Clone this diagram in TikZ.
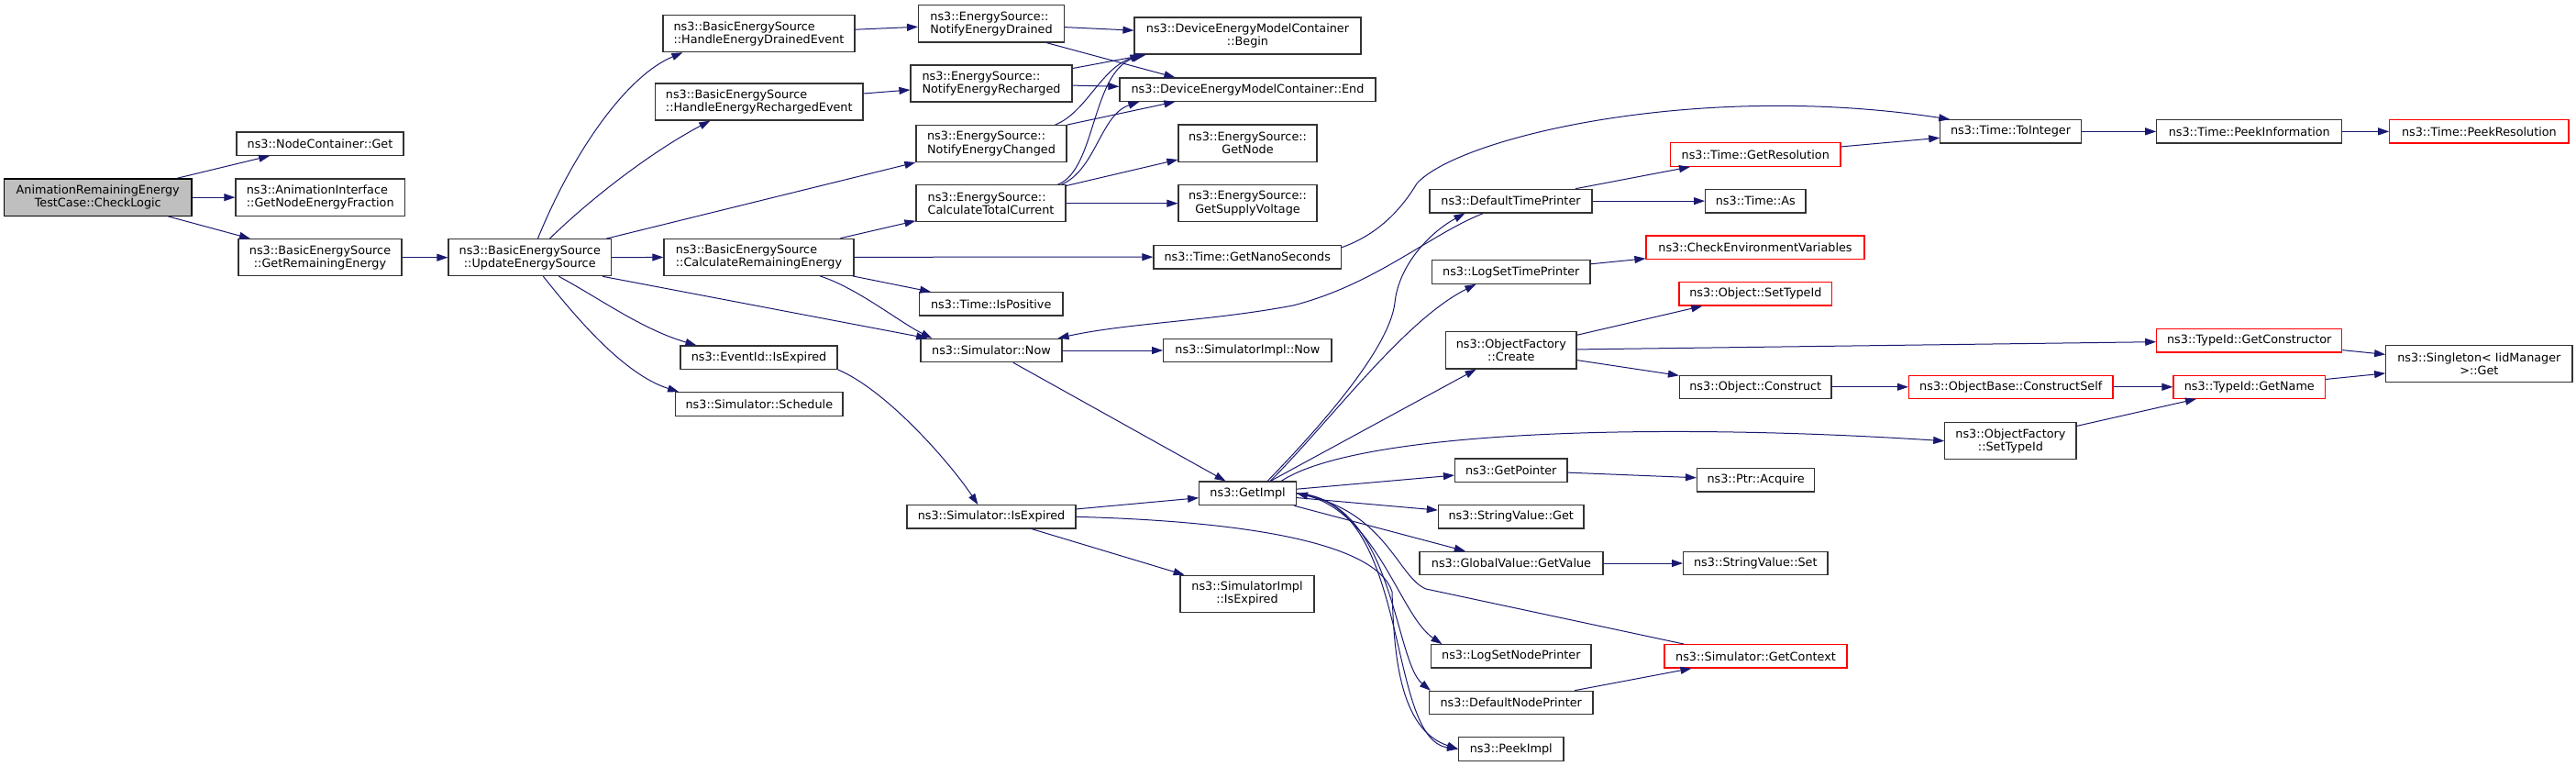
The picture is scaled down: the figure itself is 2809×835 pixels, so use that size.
\documentclass[tikz,border=0pt]{standalone}
\usepackage{fontspec}
\setmainfont{DejaVu Sans}
\usetikzlibrary{arrows.meta,calc}
\definecolor{edgec}{HTML}{191970}
\definecolor{boxc}{HTML}{333333}
\definecolor{rootc}{HTML}{BFBFBF}
\definecolor{redc}{HTML}{FF0000}
\tikzset{
 box/.style={draw=boxc, line width=1.2pt, fill=white, inner sep=0pt, align=center, font=\fontsize{12.8}{14.3}\selectfont},
 lbox/.style={box, align=left},
 redbox/.style={box, draw=redc},
 rootbox/.style={box, fill=rootc, draw=black},
 e/.style={draw=edgec, line width=1pt, -{Triangle[length=12pt,width=8pt]}},
}
\newcommand{\bx}[7][box]{\node[#1, minimum width={(#5)-(#3)}, minimum height={(#6)-(#4)}] (#2) at ({((#3)+(#5))/2},{((#4)+(#6))/2}) {#7};}
\begin{document}
\begin{tikzpicture}[x=1pt,y=-1pt]
\path[use as bounding box, fill=white] (0,0) rectangle (2809,835);
% nodes
\bx[rootbox]{cl}{4.5}{195}{209}{235.3}{AnimationRemainingEnergy\\TestCase::CheckLogic}
\bx{ncg}{258}{144}{440}{169.3}{ns3::NodeContainer::Get}
\bx[lbox]{gnef}{257}{195}{441.5}{235.3}{ns3::AnimationInterface\\::GetNodeEnergyFraction}
\bx{gre}{260}{260.7}{438}{300.7}{ns3::BasicEnergySource\\::GetRemainingEnergy}
\bx{ues}{489}{260.7}{666.5}{300.7}{ns3::BasicEnergySource\\::UpdateEnergySource}
\bx[lbox]{hed}{723}{16.7}{932}{56.7}{ns3::BasicEnergySource\\::HandleEnergyDrainedEvent}
\bx[lbox]{her}{714.5}{91}{941}{131}{ns3::BasicEnergySource\\::HandleEnergyRechargedEvent}
\bx[lbox]{cre}{724}{260.3}{931}{300.3}{ns3::BasicEnergySource\\::CalculateRemainingEnergy}
\bx{eie}{742}{377}{913}{402.3}{ns3::EventId::IsExpired}
\bx{sch}{736.7}{427.7}{919}{453.3}{ns3::Simulator::Schedule}
\bx[lbox]{ned}{1001.6}{5.7}{1160.5}{46}{ns3::EnergySource::\\NotifyEnergyDrained}
\bx[lbox]{ner}{993}{71}{1169}{111}{ns3::EnergySource::\\NotifyEnergyRecharged}
\bx[lbox]{nec}{999}{136.7}{1163}{176.7}{ns3::EnergySource::\\NotifyEnergyChanged}
\bx[lbox]{ctc}{999}{201.7}{1162}{241.7}{ns3::EnergySource::\\CalculateTotalCurrent}
\bx{tip}{1002.5}{318.7}{1159}{344}{ns3::Time::IsPositive}
\bx{snow}{1004}{369.3}{1158}{394.7}{ns3::Simulator::Now}
\bx{sie}{989}{550.7}{1173}{576}{ns3::Simulator::IsExpired}
\bx{dbeg}{1237}{19}{1484}{59}{ns3::DeviceEnergyModelContainer\\::Begin}
\bx{dend}{1221}{85}{1500}{110.3}{ns3::DeviceEnergyModelContainer::End}
\bx{gnode}{1285}{136}{1436}{176.3}{ns3::EnergySource::\\GetNode}
\bx{gsv}{1285}{201.7}{1436}{241.7}{ns3::EnergySource::\\GetSupplyVoltage}
\bx{gns}{1258}{267.3}{1462.5}{293}{ns3::Time::GetNanoSeconds}
\bx{sin}{1268.7}{369.3}{1452}{394.7}{ns3::SimulatorImpl::Now}
\bx{gimpl}{1307.7}{525}{1413.5}{550.7}{ns3::GetImpl}
\bx{siie}{1287}{627.3}{1433}{667.3}{ns3::SimulatorImpl\\::IsExpired}
\bx{dtp}{1559}{206.3}{1736}{232}{ns3::DefaultTimePrinter}
\bx{lstp}{1561.6}{283.7}{1734}{309.3}{ns3::LogSetTimePrinter}
\bx{ofc}{1576.6}{361.7}{1719}{402}{ns3::ObjectFactory\\::Create}
\bx{gptr}{1586.5}{500}{1709}{525.3}{ns3::GetPointer}
\bx{svg}{1568.4}{550.3}{1727}{576}{ns3::StringValue::Get}
\bx{gvgv}{1548}{601.3}{1748}{626.7}{ns3::GlobalValue::GetValue}
\bx{lsnp}{1560.7}{702.7}{1735}{728}{ns3::LogSetNodePrinter}
\bx{dnp}{1558.5}{753.3}{1737}{778.3}{ns3::DefaultNodePrinter}
\bx{pki}{1590.6}{803.7}{1705}{829.3}{ns3::PeekImpl}
\bx[redbox]{tgr}{1821.5}{155.3}{2007}{181.3}{ns3::Time::GetResolution}
\bx{tas}{1859.6}{206.3}{1969}{232}{ns3::Time::As}
\bx[redbox]{cev}{1795}{257}{2033}{282.7}{ns3::CheckEnvironmentVariables}
\bx[redbox]{ost}{1831}{307.3}{1997.7}{333}{ns3::Object::SetTypeId}
\bx{ocon}{1831.5}{409.3}{1997}{434.3}{ns3::Object::Construct}
\bx{pacq}{1850.5}{510.7}{1978.7}{536}{ns3::Ptr::Acquire}
\bx{svs}{1835.6}{601.3}{1993}{626.7}{ns3::StringValue::Set}
\bx[redbox]{sgc}{1815}{702.7}{2014}{728}{ns3::Simulator::GetContext}
\bx{tti}{2115.8}{130.7}{2269.3}{156}{ns3::Time::ToInteger}
\bx[redbox]{cself}{2081.5}{409.3}{2304}{434.3}{ns3::ObjectBase::ConstructSelf}
\bx{ofst}{2120.8}{460.7}{2264}{500.7}{ns3::ObjectFactory\\::SetTypeId}
\bx{tpi}{2351.8}{130.7}{2553.7}{156}{ns3::Time::PeekInformation}
\bx[redbox]{tgc}{2351.8}{358.7}{2553.7}{384}{ns3::TypeId::GetConstructor}
\bx[redbox]{tgn}{2370}{409.3}{2535.6}{434.3}{ns3::TypeId::GetName}
\bx[redbox]{tpr}{2605.8}{130.7}{2801}{156}{ns3::Time::PeekResolution}
\bx{sgl}{2601.7}{376.7}{2805}{416.7}{ns3::Singleton< IidManager\\>::Get}
% straight edges
\draw[e] (cl) -- (ncg);
\draw[e] (cl) -- (gnef);
\draw[e] (cl) -- (gre);
\draw[e] (gre) -- (ues);
\draw[e] (ues) -- (nec);
\draw[e] (ues) -- (cre);
\draw[e] ($(ues.south east)+(-10,0)$) -- (snow);
\draw[e] (hed) -- (ned);
\draw[e] (her) -- (ner);
\draw[e] (ned) -- (dbeg);
\draw[e] ($(ned.south east)+(-20,0)$) -- ($(dend.north west)+(61,0)$);
\draw[e] (ner) -- (dbeg);
\draw[e] (ner) -- (dend);
\draw[e] (nec.north east) -- ($(dend.south west)+(61,0)$);
\draw[e] (ctc) -- (gnode);
\draw[e] (ctc) -- (gsv);
\draw[e] (cre) -- (ctc);
\draw[e] (cre) -- (gns);
\draw[e] (cre) -- (tip);
\draw[e] (snow) -- (sin);
\draw[e] (snow) -- (gimpl);
\draw[e] (sie) -- (gimpl);
\draw[e] (sie) -- (siie);
\draw[e] (gimpl) -- (ofc);
\draw[e] (gimpl) -- (gptr);
\draw[e] (gimpl) -- (svg);
\draw[e] (gimpl) -- (gvgv);
\draw[e] (dtp) -- (tgr);
\draw[e] (dtp) -- (tas);
\draw[e] (tgr) -- (tti);
\draw[e] (tti) -- (tpi);
\draw[e] (tpi) -- (tpr);
\draw[e] (lstp) -- (cev);
\draw[e] (ofc) -- (ost);
\draw[e] (ofc) -- (tgc);
\draw[e] (ofc) -- (ocon);
\draw[e] (ocon) -- (cself);
\draw[e] (cself) -- (tgn);
\draw[e] (ofst) -- (tgn);
\draw[e] (tgc) -- (sgl);
\draw[e] (tgn) -- (sgl);
\draw[e] (gptr) -- (pacq);
\draw[e] (gvgv) -- (svs);
\draw[e] (dnp) -- (sgc);
% curved edges
\draw[e] ($(ues.north west)+(98,0)$) .. controls (627,161) and (685,82) .. ($(hed.south west)+(22,0)$);
\draw[e] ($(ues.north west)+(111,0)$) .. controls (650,211) and (715,163) .. ($(her.south west)+(60.5,0)$);
\draw[e] ($(ues.south west)+(121,0)$) .. controls (655,326) and (700,359) .. ($(eie.north west)+(18,0)$);
\draw[e] ($(ues.south west)+(104,0)$) .. controls (628,346) and (680,408) .. ($(sch.north west)+(4,0)$);
\draw[e] ($(cre.south west)+(170.7,0)$) .. controls (935,314) and (982,352) .. ($(snow.north west)+(13,0)$);
\draw[e] (eie.south east) .. controls (968,426) and (1037,506) .. ($(sie.north west)+(78,0)$);
\draw[e] ($(nec.north east)+(-13,0)$) .. controls (1185,122) and (1200,75) .. ($(dbeg.south west)+(8,0)$);
\draw[e] ($(ctc.north east)+(-9,0)$) .. controls (1195,185) and (1190,80) .. ($(dbeg.south west)+(10,0)$);
\draw[e] ($(ctc.north east)+(-5,0)$) .. controls (1195,185) and (1200,125) .. ($(dend.south west)+(22,0)$);
\draw[e] (sie.east) .. controls (1350,568) and (1500,590) .. (1518,645) .. controls (1520,710) and (1525,795) .. (pki.west);
\draw[e] ($(gimpl.north west)+(75,0)$) .. controls (1440,465) and (1515,380) .. (1521,330) .. controls (1525,290) and (1558,254) .. ($(dtp.south west)+(39,0)$);
\draw[e] ($(gimpl.north west)+(78,0)$) .. controls (1450,460) and (1530,350) .. ($(lstp.south west)+(48.4,0)$);
\draw[e] ($(gimpl.north west)+(90,0)$) .. controls (1480,470) and (1800,460) .. (ofst.west);
\draw[e] (gimpl.east) .. controls (1500,550) and (1525,670) .. ($(lsnp.north west)+(12.3,0)$);
\draw[e] (gimpl.east) .. controls (1520,545) and (1520,720) .. ($(dnp.north west)+(2,0)$);
\draw[e] (gimpl.east) .. controls (1540,545) and (1510,805) .. (pki.west);
\draw[e] ($(sgc.north west)+(22,0)$) -- (1555,642) .. controls (1525,630) and (1512,560) .. (gimpl.east);
\draw[e] ($(dtp.south west)+(59,0)$) .. controls (1560,255) and (1500,310) .. (1410,333) .. controls (1320,350) and (1230,352) .. ($(snow.north east)+(-5,0)$);
\draw[e] ($(gns.north east)+(0,3)$) .. controls (1505,255) and (1530,225) .. (1545,200) .. controls (1590,150) and (1850,88) .. ($(tti.north west)+(11,0)$);
\end{tikzpicture}
\end{document}
